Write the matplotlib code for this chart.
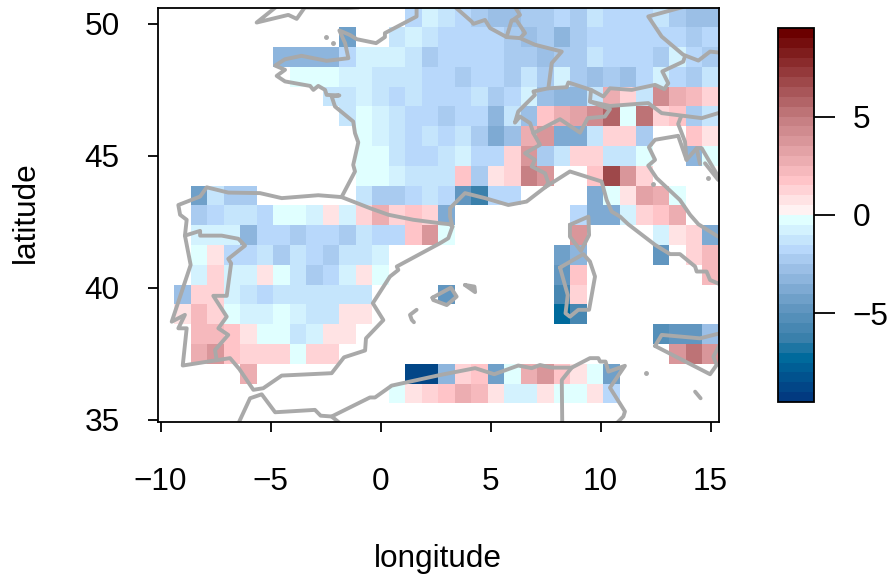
"""Gridded anomaly map over the western Mediterranean with a binned colour bar."""

from matplotlib import pyplot
from matplotlib.colors import BoundaryNorm, LinearSegmentedColormap, ListedColormap
import numpy

N = numpy.nan

# Cell centres, 0.75 degree grid.
lons = [-9 + 0.75 * i for i in range(33)]
lats = [50.25 - 0.75 * i for i in range(20)]

# One row per latitude, north to south.
values = [
    [N, N, N, N, N, N, N, N, N, N, N, N, N, N, -1.75, -0.75, -1.25, -1.75, -2.25, -2.75, -2.75, -2.25, -2.25, -1.75, -2.25, -1.25, -1.75, -1.75, -1.75, -1.25, -2.25, -2.75, -2.75],
    [N, N, N, N, N, N, N, N, N, N, -4.25, N, N, -1.25, -0.75, -1.25, -1.75, -1.75, -1.75, -1.75, -2.25, -2.75, -2.25, -3.25, -2.25, -1.75, -1.75, -1.75, -1.75, -1.75, -1.75, -2.25, -1.75],
    [N, N, N, N, N, N, -3.25, -3.25, -3.25, -3.25, -1.75, -0.75, -0.75, -0.75, -1.25, -2.25, -1.75, -1.75, -1.75, -1.75, -2.25, -2.25, -2.75, -2.25, -2.25, -1.25, -1.75, -1.75, -1.75, -2.25, -0.75, -1.75, -2.25],
    [N, N, N, N, N, N, N, -0.25, -0.25, -0.25, -0.75, -0.75, -1.25, -1.25, -1.25, -1.75, -1.75, -2.25, -1.75, -1.75, -2.25, -1.25, -2.25, -0.75, -2.25, -2.75, -2.25, -2.75, -1.75, -0.75, -1.75, -2.25, -1.25],
    [N, N, N, N, N, N, N, N, N, -1.25, -1.25, -0.75, -1.25, -1.75, -1.25, -1.75, -1.75, -1.75, -1.25, -2.25, -1.75, -0.75, -2.75, -3.25, -3.25, -1.25, 2.75, 1.25, -1.25, 4.25, 2.75, 2.0, 1.0],
    [N, N, N, N, N, N, N, N, N, N, -1.25, -0.25, -0.75, -1.25, -1.75, -1.75, -2.25, -1.75, -1.75, -3.25, -1.25, -2.75, 1.5, 2.5, 3.0, 4.25, 5.5, -0.25, 5.25, 1.0, 1.75, -2.25, -1.25],
    [N, N, N, N, N, N, N, N, N, N, N, -0.25, -0.75, -1.25, -1.75, -1.25, -1.75, -1.25, -2.25, -3.75, -2.75, 2.75, 3.5, -3.75, -3.75, -1.25, 1.0, 1.0, -2.25, N, N, 1.5, 0.5],
    [N, N, N, N, N, N, N, N, N, N, N, -0.25, -0.25, -1.25, -1.75, -1.75, -1.25, -0.75, -1.75, -1.75, 1.0, 3.5, -2.25, -1.25, 1.25, 1.0, -1.25, -1.25, -0.25, N, N, -3.25, -0.25],
    [N, N, N, N, N, N, N, N, N, N, N, -0.25, -0.25, -0.75, -1.25, -1.25, -1.25, 1.5, -2.25, 0.5, 1.25, 4.75, 3.75, N, N, 1.75, 6.75, 3.75, 1.0, N, N, N, N],
    [N, -4.25, -1.25, -2.25, -2.25, N, N, N, N, N, N, -1.25, -2.25, -2.25, -1.75, -1.25, -1.75, -4.75, -6.25, -1.75, -1.75, N, N, N, N, -3.75, -0.25, 0.5, 3.0, 2.5, -0.25, N, N],
    [N, -2.25, -1.75, -1.25, -1.25, -1.75, -0.25, -0.25, -0.75, 0.75, -0.75, 1.25, 2.5, 1.0, 1.5, 1.25, -3.75, N, N, N, N, N, N, N, -1.75, -3.75, -3.75, -0.75, 1.0, 1.5, 2.75, N, N],
    [N, -0.75, -0.75, -0.75, -3.25, -1.75, -1.75, -2.25, -1.75, -1.75, -2.25, -1.25, -1.75, -1.75, 1.5, 3.75, -0.25, N, N, N, N, N, N, N, 3.75, N, N, N, N, -0.75, 0.5, 1.0, -3.75],
    [N, -0.25, 0.5, -1.75, -1.75, -1.25, -2.25, -1.25, -1.75, -2.25, -1.25, -1.25, -0.75, N, N, N, N, N, N, N, N, N, N, -4.25, -3.25, N, N, N, N, -4.75, N, 1.0, 2.25],
    [N, -0.75, 1.0, -0.75, -0.75, 0.5, -0.25, -1.25, -2.25, -1.75, -0.75, 0.5, -0.25, N, N, N, N, N, N, N, N, N, N, -4.75, 1.5, N, N, N, N, N, N, N, 2.25],
    [-2.75, 1.0, 1.25, -0.75, -1.25, -1.75, -1.25, -1.25, -1.25, -1.25, -1.25, -1.25, N, N, N, N, -4.75, N, N, N, N, N, N, -6.0, 1.0, N, N, N, N, N, N, N, N],
    [0.5, 2.25, 1.25, -0.25, -0.75, -0.75, -0.25, -0.75, -1.25, -1.25, 0.5, 0.5, N, N, N, N, N, N, N, N, N, N, N, -7.25, -6.0, N, N, N, N, N, N, N, N],
    [N, 2.25, 2.25, 1.5, 0.5, -0.25, -0.25, -1.25, -0.75, 0.5, 0.5, N, N, N, N, N, N, N, N, N, N, N, N, N, N, N, N, N, N, -5.5, -4.75, -4.75, -2.75],
    [N, 2.75, 3.5, 1.75, 1.25, 1.25, 1.25, -0.25, 1.25, 1.25, N, N, N, N, N, N, N, N, N, N, N, N, N, N, N, N, N, N, N, N, 3.5, 5.25, 3.5],
    [N, N, N, N, 2.5, N, N, N, N, N, N, N, N, N, -9.0, -8.75, -3.25, 1.0, 1.75, -4.25, -0.25, 2.75, 3.75, 1.75, 0.5, -0.25, -4.25, N, N, N, N, N, N],
    [N, N, N, N, N, N, N, N, N, N, N, N, N, -0.25, 0.75, 1.0, 1.75, 2.75, 2.25, 0.5, -0.75, -0.75, 0.5, -0.25, -0.25, 0.5, -1.75, N, N, N, N, N, N],
]

# Colour ramp anchors, value and colour.
ramp_values = [-9.25, -7.25, -6.25, -4.75, -2.75, -1.75, -0.25, 0.25, 1.75, 5.0, 9.25]
ramp_colors = ['#023a80', '#006a9c', '#3a80ab', '#6196c0', '#9bbfe6', '#b8d8fb',
               '#e0ffff', '#fff2f2', '#ffc4c8', '#c27a7e', '#6b0000']

# Coastlines and borders, as lon and lat pairs.
uk_south = [(-4.75, 50.64), (-5.63, 50.05), (-4.19, 50.34), (-3.81, 50.19), (-3.43, 50.64)]
uk_top = [(-3.43, 50.62), (-1.5, 50.6), (-1.0, 50.62)]
atlantic = [(1.64, 50.64), (1.64, 50.28), (0.20, 49.65), (0.20, 49.50), (-0.20, 49.27),
            (-1.08, 49.42), (-1.39, 49.58), (-1.87, 49.75), (-1.61, 49.27), (-1.46, 48.70),
            (-2.45, 48.60), (-3.59, 48.79), (-4.34, 48.66), (-4.79, 48.42), (-4.34, 48.26),
            (-4.72, 48.03), (-4.34, 47.82), (-3.20, 47.65), (-3.05, 47.50), (-2.83, 47.65),
            (-2.52, 47.50), (-2.45, 47.31), (-1.87, 47.29), (-2.22, 47.25), (-2.07, 46.87),
            (-1.24, 46.30), (-1.16, 45.86), (-1.01, 45.51), (-1.24, 44.66), (-1.16, 44.41),
            (-1.77, 43.44), (-2.83, 43.51), (-4.49, 43.40), (-5.48, 43.59), (-6.92, 43.61),
            (-7.90, 43.81), (-8.20, 43.46), (-9.19, 43.14), (-9.11, 42.77), (-8.81, 42.58),
            (-8.89, 41.98), (-8.63, 40.87), (-9.49, 38.72), (-8.89, 38.98), (-9.19, 38.47),
            (-8.81, 38.47), (-8.99, 37.06), (-6.84, 37.34), (-6.42, 36.93), (-5.78, 36.14),
            (-5.33, 36.20), (-4.49, 36.68), (-2.22, 36.77), (-1.66, 37.37), (-0.70, 37.63),
            (-0.66, 38.09), (0.13, 38.78), (-0.35, 39.42), (0.43, 40.43), (0.81, 40.68),
            (0.74, 40.81), (2.70, 41.69), (3.08, 41.88), (3.27, 42.32), (3.16, 42.70),
            (3.16, 43.02), (3.84, 43.59), (4.75, 43.40), (5.81, 43.14), (6.64, 43.27),
            (7.48, 43.81), (8.61, 44.41), (10.05, 44.03), (10.28, 43.33), (10.51, 42.89),
            (10.89, 42.70), (11.26, 42.41), (12.48, 41.63), (13.16, 41.28), (13.61, 41.28),
            (14.30, 40.81), (14.37, 40.62), (14.82, 40.62), (14.98, 40.30), (15.51, 40.11)]
pyrenees = [(-1.77, 43.44), (-0.48, 43.02), (0.36, 42.77), (1.49, 42.58), (2.70, 42.45),
            (3.16, 42.41), (3.27, 42.32)]
portugal = [(-8.89, 41.98), (-8.20, 42.16), (-8.20, 41.98), (-7.22, 41.98), (-6.46, 41.86),
            (-6.16, 41.60), (-6.92, 41.10), (-6.79, 40.93), (-6.99, 39.70), (-7.60, 39.70),
            (-6.99, 38.91), (-7.37, 38.47), (-6.92, 38.22), (-7.52, 37.65), (-7.45, 37.27)]
africa = [(-6.42, 34.94), (-5.93, 35.82), (-5.40, 35.97), (-4.79, 35.29), (-2.98, 35.38),
          (-2.72, 35.16), (-2.22, 35.13), (-0.48, 35.85), (-0.25, 35.85), (0.51, 36.30),
          (2.70, 36.70), (4.30, 36.96), (5.17, 36.73), (6.26, 37.06), (6.87, 36.96),
          (7.25, 37.08), (7.78, 36.98), (8.69, 36.98), (9.52, 37.34), (9.90, 37.34),
          (9.98, 37.21), (10.23, 37.21), (10.36, 36.83), (11.11, 37.05), (10.43, 36.22),
          (11.11, 35.32), (11.04, 35.13), (10.73, 34.87)]
morocco_border = [(-2.22, 35.13), (-1.84, 34.87)]
tunisia_border = [(8.69, 36.98), (8.24, 36.51), (8.26, 34.91)]
sardinia = [(8.16, 40.77), (9.22, 41.28), (9.52, 41.0), (9.75, 40.43), (9.48, 39.17),
            (8.99, 39.17), (8.61, 38.91), (8.41, 39.04), (8.51, 39.73), (8.16, 40.77)]
corsica = [(8.61, 42.39), (9.45, 42.70), (9.48, 42.0), (9.11, 41.40), (8.61, 41.94), (8.61, 42.39)]
sicily = [(12.48, 37.80), (12.78, 38.22), (14.52, 38.09), (15.43, 38.28), (15.5, 37.97),
          (15.13, 37.40), (15.28, 37.08), (14.98, 36.73), (12.48, 37.80)]
mallorca = [(2.36, 39.63), (3.20, 40.01), (3.46, 39.67), (3.01, 39.35), (2.40, 39.54), (2.36, 39.63)]
menorca = [(3.84, 40.11), (4.27, 40.05), (4.30, 39.84), (3.84, 40.11)]
ibiza = [(1.64, 39.17), (1.34, 38.98), (1.42, 38.79), (1.52, 38.70)]
malta = [(14.30, 36.07), (14.55, 35.82)]
adriatic = [(15.35, 41.94), (14.45, 42.41), (14.07, 42.77), (13.61, 43.33), (12.55, 44.16),
            (12.17, 44.63), (12.48, 44.85), (12.20, 45.33), (12.48, 45.61), (13.53, 45.76),
            (13.91, 44.85), (14.37, 45.29), (14.60, 45.29), (15.35, 44.22)]
istria = [(14.37, 45.29), (14.52, 44.70)]
krk = [(14.75, 44.72), (15.35, 44.09)]
france_east = [(3.39, 50.64), (4.14, 50.09), (4.22, 50.0), (4.75, 50.15), (4.98, 49.84),
               (5.73, 49.50), (6.34, 49.46), (7.02, 49.21), (8.24, 48.95), (7.78, 48.51),
               (7.63, 47.56), (6.95, 47.44), (7.02, 47.31), (6.26, 46.68), (6.11, 46.26),
               (6.34, 46.49), (6.80, 46.24), (6.95, 45.86), (7.25, 45.42), (6.57, 45.10),
               (7.02, 44.85), (6.87, 44.60), (7.48, 44.34), (7.63, 43.97), (7.48, 43.81)]
swiss = [(6.95, 45.86), (8.16, 46.39), (9.07, 45.88), (9.42, 46.43), (10.20, 46.49),
         (10.43, 46.77), (9.52, 47.06), (9.57, 47.50), (8.54, 47.78), (8.46, 47.60), (7.63, 47.56)]
austria_south = [(9.52, 47.06), (10.43, 46.89), (12.17, 47.0), (12.78, 46.62), (14.60, 46.43),
                 (15.43, 46.64)]
austria_north = [(9.57, 47.50), (10.13, 47.25), (10.43, 47.56), (11.42, 47.50), (12.48, 47.69),
                 (12.90, 47.53), (13.08, 47.75), (12.81, 48.20), (13.76, 48.57), (13.81, 48.70)]
czech = [(13.76, 50.64), (12.17, 50.28), (12.78, 49.52), (13.76, 48.83), (14.45, 48.61),
         (14.98, 48.95), (15.43, 48.91)]
luxembourg = [(5.73, 49.50), (5.96, 50.13), (6.19, 50.13), (6.57, 49.65), (6.34, 49.46)]
benelux = [(6.11, 50.64), (6.34, 50.34), (5.99, 50.13)]
slovenia = [(13.66, 46.49), (13.53, 46.21), (13.84, 45.54), (13.91, 44.85)]
outlines = [uk_south, uk_top, atlantic, pyrenees, portugal, africa, morocco_border,
            tunisia_border, sardinia, corsica, sicily, mallorca, menorca, ibiza, malta,
            adriatic, istria, krk, france_east, swiss, austria_south, austria_north,
            czech, luxembourg, benelux, slovenia]
small_islands = [(-2.49, 49.50), (-2.14, 49.27), (12.08, 36.77), (12.40, 43.93), (14.90, 44.16)]

xticks = [-10, -5, 0, 5, 10, 15]
yticks = [35, 40, 45, 50]
cbar_ticks = [-5, 0, 5]

pyplot.rc('font', family='Liberation Sans', size=22.7)

# Binned palette, one colour per half unit.
bounds = numpy.arange(-9.5, 10.0, 0.5)
centres = 0.5 * (bounds[:-1] + bounds[1:])
lo, hi = ramp_values[0], ramp_values[-1]
ramp = LinearSegmentedColormap.from_list(
    'anom', [((v - lo) / (hi - lo), c) for v, c in zip(ramp_values, ramp_colors)], N=1024)
cmap = ListedColormap(ramp((centres - lo) / (hi - lo)))
norm = BoundaryNorm(bounds, cmap.N)

fig = pyplot.figure(figsize=(8.91, 5.76), dpi=100)
ax = fig.add_axes([158 / 891, (576 - 421.5) / 576, 561 / 891, 414 / 576])
mesh = ax.pcolormesh(lons, lats, numpy.ma.masked_invalid(values), cmap=cmap, norm=norm,
                     shading='nearest')
for line in outlines:
    xs, ys = zip(*line)
    ax.plot(xs, ys, color='#a9a9a9', lw=2.8, solid_joinstyle='round', solid_capstyle='round')
xs, ys = zip(*small_islands)
ax.plot(xs, ys, ls='none', marker='o', ms=2.5, color='#a9a9a9')

ax.set_xlim(-10.114, 15.386)
ax.set_ylim(34.94, 50.62)
ax.set_xticks(xticks)
ax.set_yticks(yticks)
ax.tick_params(length=7.5, width=1.3)
ax.tick_params(axis='y', pad=20)
ax.tick_params(axis='x', pad=25.5)
for spine in ax.spines.values():
    spine.set_linewidth(1.3)
fig.text(438 / 891, 1 - 559 / 576, 'longitude', ha='center', va='center')
fig.text(26 / 891, 1 - 212 / 576, 'latitude', ha='center', va='center', rotation=90)

cax = fig.add_axes([778 / 891, (576 - 402) / 576, 36 / 891, 374 / 576])
cbar = fig.colorbar(mesh, cax=cax, spacing='proportional', drawedges=False)
cbar.set_ticks(cbar_ticks)
cbar.ax.minorticks_off()
cbar.ax.tick_params(length=15, width=1.3, pad=13)
cbar.outline.set_linewidth(1.3)

fig.savefig('out.png', dpi=100)
